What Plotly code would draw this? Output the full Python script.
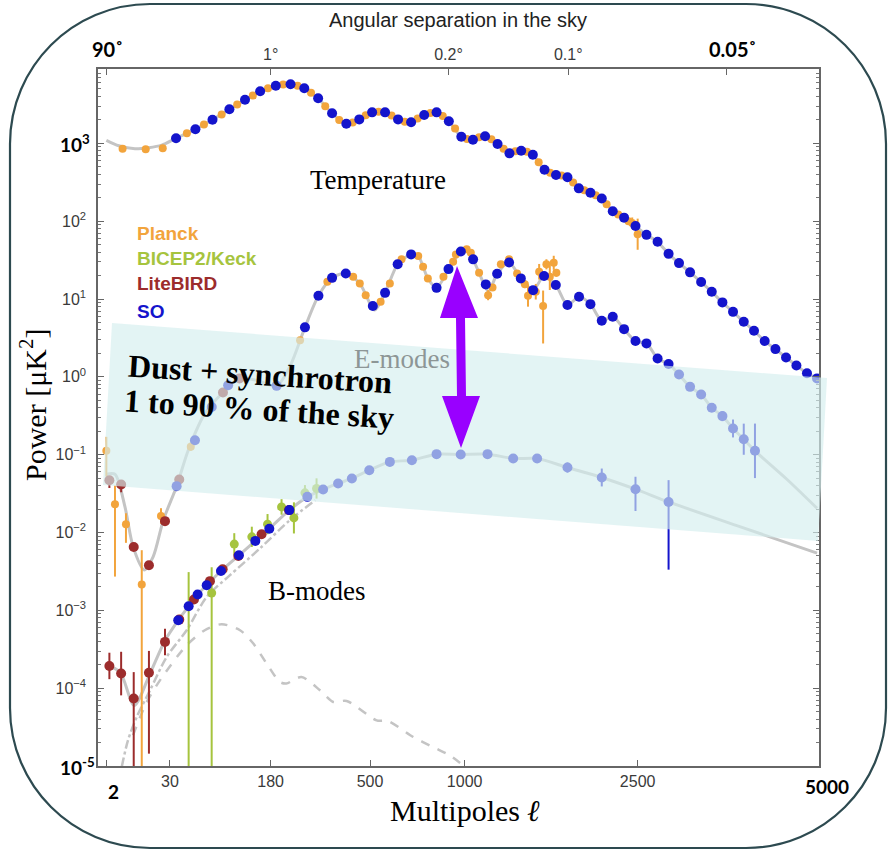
import numpy as np
import plotly.graph_objects as go

# ------------------------------------------------------------------
# Data (multipole ell, power D_ell in uK^2)
# ------------------------------------------------------------------
# Temperature (TT)
tt_curve_low_ell = [2, 4.5, 9.7, 16, 24]
tt_curve_low_D = [1094, 930, 852, 880, 950]
tt_so_ell = [35, 54, 75, 100, 127, 157, 192, 229, 267, 309, 355, 406, 456, 509, 566,
             627, 692, 761, 830, 902, 979, 1054, 1136, 1224, 1312, 1402, 1495, 1592,
             1691, 1793, 1898, 2009, 2121, 2233, 2352, 2476, 2599, 2727, 2857, 2984,
             3122, 3264, 3404, 3548, 3695, 3847, 3996, 4155, 4318, 4483, 4648, 4820, 4987]
tt_so_D = [1160, 1514, 2010, 2735, 3630, 4660, 5500, 5730, 5090, 3790, 2430, 1786, 2030,
           2500, 2500, 2030, 1862, 2310, 2500, 1920, 1213, 1112, 1230, 980, 743, 803, 713,
           458, 392, 366, 264, 232, 196, 134, 111, 86.5, 66.7, 54.3, 38, 28.9, 22.0, 16.5,
           12.4, 9.04, 6.84, 5.09, 3.90, 2.88, 2.27, 1.77, 1.40, 1.11, 0.955]
tt_pl_ell = [5.5, 14.5, 24.7, 45, 64, 88, 113, 142, 174, 210, 248, 287, 332, 380, 430,
             482, 537, 596, 660, 726, 795, 866, 940, 1015, 1095, 1180, 1268, 1357, 1448,
             1543, 1640, 1740, 1845, 1950, 2060, 2170, 2290, 2400, 2440, 2500]
tt_pl_D = [853, 837, 862, 1350, 1750, 2350, 3150, 4120, 5100, 5700, 5500, 4450, 3000,
           2000, 1850, 2300, 2550, 2280, 1900, 2080, 2450, 2250, 1550, 1140, 1200, 1130,
           850, 790, 780, 570, 420, 385, 315, 250, 215, 165, 122, 100, 95, 68]
tt_pl_err_dex = [0.04, 0.015, 0.015, 0.01, 0.01, 0.01, 0.01, 0.01, 0.01, 0.01, 0.01,
                 0.01, 0.01, 0.01, 0.01, 0.01, 0.01, 0.01, 0.01, 0.01, 0.01, 0.01, 0.01,
                 0.01, 0.01, 0.01, 0.01, 0.01, 0.01, 0.01, 0.015, 0.015, 0.02, 0.02, 0.02,
                 0.03, 0.03, 0.04, 0.07, 0.2]

# E-modes (EE)
ee_curve_ell = [2, 3.6, 6.2, 9.0, 13.8, 18.6, 25.1, 35.5, 46.4, 65.2, 90, 117, 150, 194,
                227, 269, 310, 355, 405, 458, 520, 566, 625, 692, 729, 781, 830, 900, 976,
                1013, 1055, 1095, 1160, 1221, 1309, 1399, 1497, 1588, 1689, 1793, 1900,
                2009, 2121, 2233, 2352, 2476, 2599, 2727, 2857, 2984, 3122, 3264, 3404,
                3548, 3695, 3847, 4010, 4500, 4987]
ee_curve_D = [0.056, 0.056, 0.0213, 0.0065, 0.0033, 0.0049, 0.0144, 0.0394, 0.114, 0.339,
              0.63, 0.955, 0.9, 0.766, 1.35, 4.32, 11.0, 18.7, 21.3, 15.8, 7.2, 12.0, 27.9,
              37.4, 35.6, 18.4, 13.9, 24.2, 40.8, 43.5, 32.3, 21.7, 12.5, 21.1, 29.5, 18.4,
              13.0, 19.7, 15.1, 8.36, 10.7, 8.59, 5.25, 5.90, 4.10, 2.88, 2.69, 1.72, 1.46,
              1.07, 0.743, 0.594, 0.400, 0.313, 0.217, 0.158, 0.112, 0.048, 0.0205]
ee_so_ell = [35.5, 53.5, 74, 98, 194, 269, 310, 355, 404, 512, 566, 625, 692, 830, 900,
             976, 1055, 1141, 1221, 1309, 1399, 1497, 1588, 1689, 1793, 1900, 2009, 2121,
             2233, 2352, 2476, 2599, 2727, 2857, 2984, 3122, 3264, 3404, 3548, 3695, 3847, 4010]
ee_so_D = [0.0394, 0.153, 0.41, 0.78, 0.766, 4.32, 11.0, 18.7, 21.3, 8.11, 12.0, 27.9, 37.4,
           13.9, 24.2, 40.8, 32.3, 15.4, 21.1, 29.5, 18.4, 13.0, 19.7, 15.1, 8.36, 10.7,
           8.59, 5.25, 5.90, 4.10, 2.88, 2.69, 1.72, 1.46, 1.07, 0.743, 0.594, 0.400, 0.313,
           0.217, 0.158, 0.112]
ee_so_err_dex = [0] * 37 + [0.03, 0.065, 0.115, 0.2, 0.35]
ee_pl_ell = [2, 3.6, 6.5, 12.6, 23.5, 49, 255, 339, 432, 458, 482, 546, 588, 644, 729, 755,
             781, 870, 928, 945, 1013, 1040, 1095, 1157, 1188, 1248, 1309, 1370, 1431, 1456,
             1519, 1547, 1580, 1608, 1637, 1671, 1694]
ee_pl_D = [0.112, 0.0231, 0.0128, 0.00215, 0.0163, 0.126, 2.96, 16.6, 19.3, 15.8, 11.2, 9.2,
           15.8, 32.3, 35.6, 25.9, 18.4, 19.3, 30.1, 37.4, 43.5, 39.3, 21.7, 11.2, 14.1, 27.9,
           32.3, 21.3, 15.5, 11.0, 12.4, 22.4, 8.1, 27.9, 19.3, 29.2, 21.7]
ee_pl_err_up = [0.18, 0.24, 0.14, 0.44, 0.1, 0.05] + [0] * 17 + \
               [0.065, 0.03, 0.03, 0.03, 0.03, 0.05, 0.14, 0.1, 0.1, 0.2, 0.065, 0.17, 0.09, 0.05]
ee_pl_err_dn = [0.33, 0.93, 0.24, 2.5, 0.1, 0.05] + [0] * 17 + \
               [0.065, 0.03, 0.03, 0.03, 0.03, 0.05, 0.14, 0.1, 0.1, 0.48, 0.065, 0.17, 0.09, 0.05]
lb_ee_ell = [2.5, 5.1, 9.2, 16.2, 26.3, 37.8, 90, 117]
lb_ee_D = [0.047, 0.0414, 0.0065, 0.0038, 0.014, 0.048, 0.63, 0.955]
lb_ee_err_up = [0.04, 0.04, 0.03, 0.03, 0.03, 0.03, 0.02, 0.02]
lb_ee_err_dn = [0.1, 0.1, 0.03, 0.03, 0.03, 0.03, 0.02, 0.02]

# B-modes (BB)
bb_curve_low_ell = [2, 4.8, 9.4, 16.8, 26.3]
bb_curve_low_D = [1.97e-4, 1.61e-4, 6.0e-5, 1.54e-4, 4.1e-4]
bb_curve_high_ell = [3790, 4987]
bb_curve_high_D = [0.0119, 0.00542]
so_bb_ell = [36.9, 46.8, 56.5, 67.4, 87, 116, 147, 177, 226, 276, 325, 376, 427, 497, 588,
             696, 830, 975, 1153, 1340, 1530, 1793, 2121, 2476, 2857]
so_bb_D = [7.46e-4, 1.13e-3, 1.6e-3, 2.1e-3, 3.2e-3, 5.1e-3, 7.8e-3, 0.0112, 0.0194, 0.0287,
           0.0357, 0.0427, 0.0495, 0.0632, 0.0807, 0.0849, 0.1015, 0.1006, 0.1015, 0.0893,
           0.0893, 0.0684, 0.0509, 0.036, 0.0247]
so_bb_err_up = [0.05] + [0] * 20 + [0.065, 0.115, 0.16, 0.28]
so_bb_err_dn = [0.05] + [0] * 20 + [0.065, 0.115, 0.28, 0.87]
lb_bb_ell = [2.5, 5.1, 9.2, 16.2, 26.3, 37.8, 52.4, 71.6, 89.5, 115, 160, 225]
lb_bb_D = [1.93e-4, 1.54e-4, 7.35e-5, 1.58e-4, 3.93e-4, 7.6e-4, 1.38e-3, 2.37e-3, 3.37e-3,
           5.0e-3, 9.5e-3, 0.0194]
lb_bb_err_up = [0.17, 0.28, 0.34, 0.28, 0.17, 0.05, 0.03, 0.03, 0.03, 0.03, 0.03, 0.02]
lb_bb_err_dn = [0.17, 0.28, 1.5, 1.04, 0.17, 0.05, 0.03, 0.03, 0.03, 0.03, 0.03, 0.02]
bk_ell = [46.8, 73.9, 108, 140, 173, 206, 238, 269, 304]
bk_D = [2e-6, 1.67e-3, 7.1e-3, 8.8e-3, 0.0128, 0.0213, 0.0154, 0.0323, 0.0368]
bk_err_up = [3.19, 0.33, 0.14, 0.13, 0.13, 0.1, 0.2, 0.1, 0.13]
bk_err_dn = [0.0, 3.0, 0.14, 0.13, 0.13, 0.1, 0.2, 0.1, 0.13]
bb_lens_ell = [5.3, 7.15, 10.4, 16.8, 27.5, 44.8, 67.4, 101, 157, 227, 300]
bb_lens_D = [9.9e-6, 2.14e-5, 4.27e-5, 9.4e-5, 2.52e-4, 5.55e-4, 1.49e-3, 2.83e-3, 6.28e-3,
             0.0144, 0.026]
bb_tens_ell = [8.9, 15, 22.8, 44.8, 65, 88, 118, 143, 171, 202, 218, 259, 315, 359, 407, 528,
               580, 703, 810, 908, 990]
bb_tens_D = [2.48e-5, 6.59e-5, 1.26e-4, 3.56e-4, 5.55e-4, 6.63e-4, 5.55e-4, 3.74e-4, 2.07e-4,
             1.2e-4, 1.15e-4, 1.39e-4, 9.4e-5, 6.65e-5, 6.85e-5, 3.86e-5, 3.78e-5, 2.36e-5,
             1.75e-5, 1.37e-5, 1.02e-5]

# Axis ticks
x_tick_ell = [2, 30, 180, 500, 1000, 2500]
x_tick_text = ["", "30", "180", "500", "1000", "2500"]
top_tick_deg = [90, 1, 0.2, 0.1, 0.05]
top_tick_text = ["", "1°", "0.2°", "0.1°", ""]
y_tick_exp = [-5, -4, -3, -2, -1, 0, 1, 2, 3]

# ------------------------------------------------------------------
# Styling / helpers
# ------------------------------------------------------------------
C_SO = "#1414cc"
C_PL = "#f2a43c"
C_BK = "#a6c43e"
C_LB = "#9c2c2c"
C_TH = "#c4c4c4"

XPOW = 0.4  # the multipole axis of the original figure is linear in ell**0.4


def X(ell):
    return np.asarray(ell, dtype=float) ** XPOW


def errs(D, up, dn):
    D = np.asarray(D, dtype=float)
    return D * (10 ** np.asarray(up, dtype=float) - 1), D * (1 - 10 ** (-np.asarray(dn, dtype=float)))


W, H = 894, 854
ML, MR, MT, MB = 98, 75, 69, 88
PW, PH = W - ML - MR, H - MT - MB


def px(x):
    return (x - ML) / PW


def py(y):
    return (H - MB - y) / PH


def P(x, y):
    return f"{px(x):.5f},{py(y):.5f}"


fig = go.Figure()


def curve(ell, D, dash="solid", width=3):
    fig.add_trace(go.Scatter(x=X(ell), y=D, mode="lines", line=dict(color=C_TH, width=width, dash=dash,
                                                                     shape="spline", smoothing=0.8),
                             hoverinfo="skip", showlegend=False))


def points(ell, D, color, size, up=None, dn=None):
    kw = {}
    if up is not None:
        p, m = errs(D, up, dn)
        kw["error_y"] = dict(type="data", symmetric=False, array=p, arrayminus=m,
                             color=color, thickness=2, width=0)
    fig.add_trace(go.Scatter(x=X(ell), y=D, mode="markers",
                             marker=dict(color=color, size=size, line=dict(width=0)),
                             showlegend=False, **kw))


# theory curves
curve(tt_curve_low_ell + tt_so_ell, tt_curve_low_D + tt_so_D)
curve(ee_curve_ell, ee_curve_D)
curve(bb_curve_low_ell + so_bb_ell + bb_curve_high_ell, bb_curve_low_D + so_bb_D + bb_curve_high_D)
curve(bb_lens_ell, bb_lens_D, dash="dashdot", width=2.5)
curve(bb_tens_ell, bb_tens_D, dash="dash", width=2.5)

# data points
points(tt_pl_ell, tt_pl_D, C_PL, 8, tt_pl_err_dex, tt_pl_err_dex)
points(ee_pl_ell, ee_pl_D, C_PL, 8, ee_pl_err_up, ee_pl_err_dn)
points(bk_ell, bk_D, C_BK, 9, bk_err_up, bk_err_dn)
points(lb_ee_ell, lb_ee_D, C_LB, 10, lb_ee_err_up, lb_ee_err_dn)
points(lb_bb_ell, lb_bb_D, C_LB, 10, lb_bb_err_up, lb_bb_err_dn)
points(tt_so_ell, tt_so_D, C_SO, 10)
points(ee_so_ell, ee_so_D, C_SO, 10, ee_so_err_dex, ee_so_err_dex)
points(so_bb_ell, so_bb_D, C_SO, 10, so_bb_err_up, so_bb_err_dn)

# helper trace for the top (angular) axis
top_ell = [180.0 / d for d in top_tick_deg]
fig.add_trace(go.Scatter(x=X(top_ell), y=[1] * len(top_ell), xaxis="x2", mode="markers",
                         marker=dict(opacity=0), hoverinfo="skip", showlegend=False))

xr = [X(0.953).item(), X(5020).item()]
axis_common = dict(showline=True, linecolor="#666", linewidth=1.5, ticks="inside",
                   tickcolor="#666", ticklen=6, showgrid=False, zeroline=False)

fig.update_layout(
    width=W, height=H,
    margin=dict(l=ML, r=MR, t=MT, b=MB),
    paper_bgcolor="white", plot_bgcolor="white",
    showlegend=False,
    xaxis=dict(range=xr, tickmode="array", tickvals=X(x_tick_ell), ticktext=x_tick_text,
               tickfont=dict(family="Liberation Sans", size=16, color="#3a3a3a"),
               ticklabelstandoff=0, **axis_common),
    xaxis2=dict(range=xr, overlaying="x", side="top", anchor="y", tickmode="array",
                tickvals=X(top_ell), ticktext=top_tick_text,
                tickfont=dict(family="Liberation Sans", size=16, color="#3a3a3a"),
                ticklabelstandoff=1, **axis_common),
    yaxis=dict(type="log", range=[-5, 3.955], tickmode="array",
               tickvals=[10.0 ** e for e in y_tick_exp],
               ticktext=["" if e in (-5, 3) else f"10<sup>{e}</sup>".replace("-", "−") for e in y_tick_exp],
               tickfont=dict(family="Liberation Sans", size=16, color="#3a3a3a"),
               ticklabelstandoff=7, mirror="ticks",
               minor=dict(ticks="inside", ticklen=3, tickcolor="#777", dtick="D1", showgrid=False),
               **axis_common),
)

shapes = []
# foreground band (dust + synchrotron)
band = [(112, 323), (827, 378), (818, 541), (103, 485)]
shapes.append(dict(type="path", xref="paper", yref="paper", layer="above",
                   path="M " + " L ".join(P(x, y) for x, y in band) + " Z",
                   fillcolor="rgba(212,238,238,0.65)", line=dict(width=0)))
# purple double arrow
arrow = [(457, 266), (478, 318), (465, 318), (466, 396), (480, 396), (461, 448),
         (442, 396), (457, 396), (456, 318), (440, 318)]
shapes.append(dict(type="path", xref="paper", yref="paper", layer="above",
                   path="M " + " L ".join(P(x, y) for x, y in arrow) + " Z",
                   fillcolor="#9900ff", line=dict(width=0)))
# outer rounded frame
L_, R_, T_, B_, r = 10, 886, 4, 848, 140
k = 0.5523 * r
frame = (f"M {P(L_ + r, T_)} L {P(R_ - r, T_)} C {P(R_ - r + k, T_)} {P(R_, T_ + r - k)} {P(R_, T_ + r)} "
         f"L {P(R_, B_ - r)} C {P(R_, B_ - r + k)} {P(R_ - r + k, B_)} {P(R_ - r, B_)} "
         f"L {P(L_ + r, B_)} C {P(L_ + r - k, B_)} {P(L_, B_ - r + k)} {P(L_, B_ - r)} "
         f"L {P(L_, T_ + r)} C {P(L_, T_ + r - k)} {P(L_ + r - k, T_)} {P(L_ + r, T_)} Z")
shapes.append(dict(type="path", xref="paper", yref="paper", layer="above", path=frame,
                   line=dict(color="#2d4a50", width=2.2), fillcolor="rgba(0,0,0,0)"))
fig.update_layout(shapes=shapes)

SERIF = "Liberation Serif"
SANS = "Liberation Sans"


def note(text, x, y, size, color="black", family=SERIF, angle=0, xanchor="center"):
    fig.add_annotation(text=text, x=px(x), y=py(y), xref="paper", yref="paper",
                       showarrow=False, xanchor=xanchor, yanchor="middle", textangle=angle,
                       font=dict(family=family, size=size, color=color))


note("Temperature", 378, 180, 27)
note("E-modes", 402, 359, 27, color="#8d9696")
note("B-modes", 317, 591, 27)
note("<b>Dust + synchrotron</b>", 260, 374, 32, angle=3.7)
note("<b>1 to 90 % of the sky</b>", 259, 409, 32, angle=3.7)
note("Multipoles <b><i>ℓ</i></b>", 465, 810, 30)
note("Power [μK<sup>2</sup>]", 33, 405, 30, angle=-90)
note("Angular separation in the sky", 458, 20, 20, color="#222", family=SANS)

note("<b>Planck</b>", 135, 234, 19, color=C_PL, family=SANS, xanchor="left")
note("<b>BICEP2/Keck</b>", 135, 258, 19, color=C_BK, family=SANS, xanchor="left")
note("<b>LiteBIRD</b>", 135, 283, 19, color=C_LB, family=SANS, xanchor="left")
note("<b>SO</b>", 135, 311, 19, color=C_SO, family=SANS, xanchor="left")

note("<b>90˚</b>", 107, 49, 20, family="Lato")
note("<b>0.05˚</b>", 733, 49, 20, family="Lato")
note("<b>10<sup>3</sup></b>", 75, 144, 19, family="Lato")
note("<b>10<sup>-5</sup></b>", 77, 766, 19, family="Lato")
note("<b>2</b>", 113, 791, 19, family="Lato")
note("<b>5000</b>", 827, 787, 19, family="Lato")

# remove the default page margin so the figure sits at the window's top-left corner
fig.write_html("out.html", config={"displayModeBar": False},
               post_script="document.body.style.margin='0';")
